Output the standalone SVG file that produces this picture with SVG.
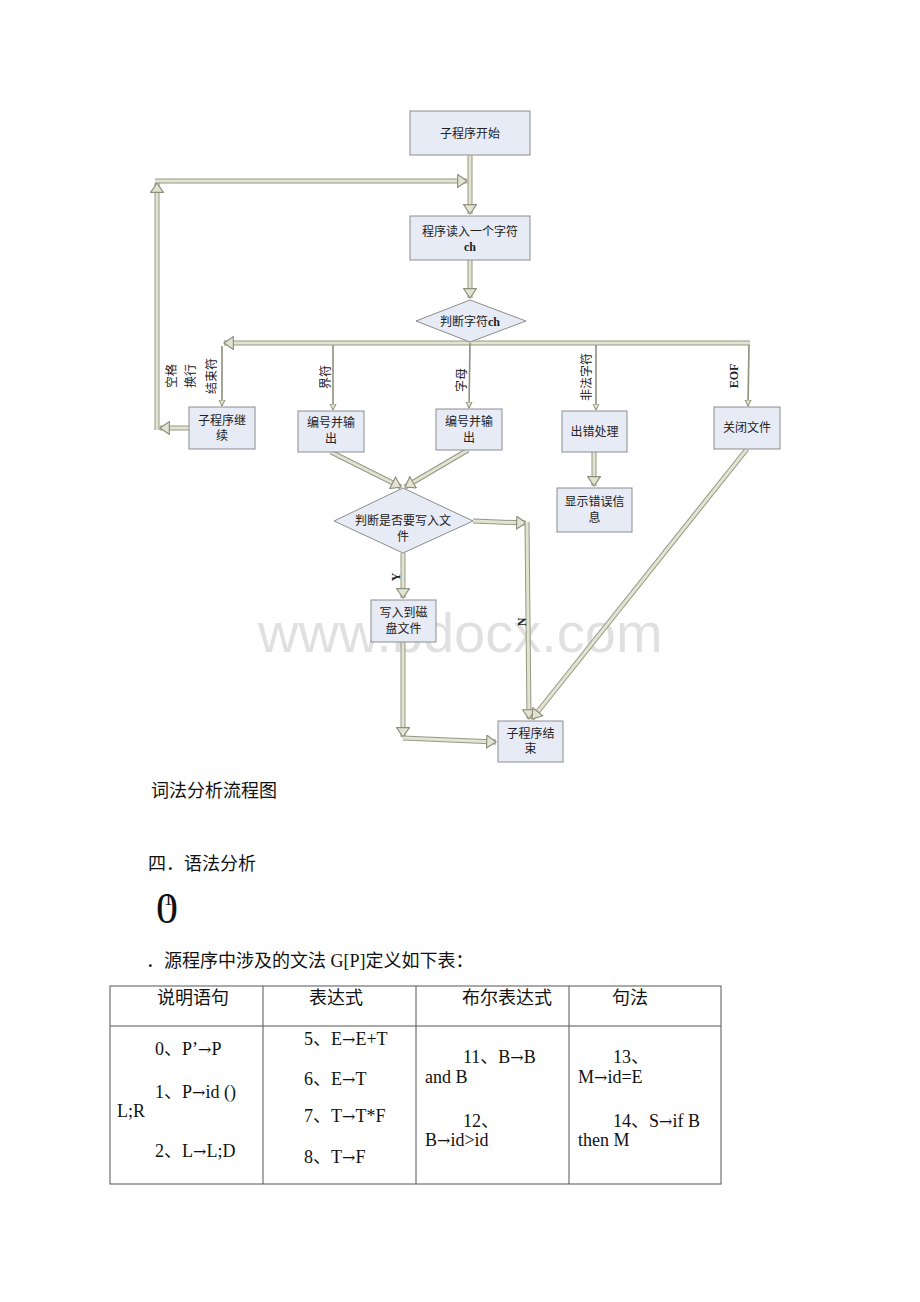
<svg xmlns="http://www.w3.org/2000/svg" width="920" height="1302" viewBox="0 0 920 1302">
<style>
.bx{fill:#e6ebf6;stroke:#8d8d8d;stroke-width:1}
.t{font-family:"Noto Sans CJK SC",sans-serif;font-size:12px;fill:#222;text-anchor:middle}
.tb{font-family:"Liberation Serif","Noto Sans CJK SC",serif;font-size:12px;font-weight:bold;fill:#222;text-anchor:middle}
.o{fill:none;stroke:#969684;stroke-width:5}
.i{fill:none;stroke:#e2e4d2;stroke-width:3}
.th{fill:none;stroke:#8f8f7e;stroke-width:1.6}
.pg{font-family:"Liberation Serif","Noto Sans CJK SC",serif;font-size:18px;fill:#111}
.ar{font-family:"DejaVu Serif",serif;font-size:16px}
.tl{stroke:#555;stroke-width:1;fill:none}
</style>
<defs>
<marker id="ah" markerUnits="userSpaceOnUse" markerWidth="12" markerHeight="14" viewBox="0 0 10 12" refX="8.5" refY="6" orient="auto">
<polygon points="0.5,0.5 8.5,6 0.5,11.5" fill="#e2e4d2" stroke="#8f8f7e" stroke-width="1"/>
</marker>
<marker id="sh" markerUnits="userSpaceOnUse" markerWidth="8" markerHeight="8" viewBox="0 0 8 8" refX="6" refY="4" orient="auto">
<polygon points="0,1 6,4 0,7" fill="#e2e4d2" stroke="#8f8f7e" stroke-width="1"/>
</marker>
</defs>
<rect width="920" height="1302" fill="#fff"/>

<text x="258" y="652" font-family="Liberation Sans" font-size="56" fill="#000" fill-opacity="0.12">www.bdocx.com</text>

<g id="connectors">
<path class="o" d="M470,155 V214"/><path class="i" d="M470,155 V214" marker-end="url(#ah)"/>
<path class="o" d="M189,428 H160"/><path class="i" d="M189,428 H160" marker-end="url(#ah)"/>
<path class="o" d="M157,430 V183"/><path class="i" d="M157,430 V183" marker-end="url(#ah)"/>
<path class="o" d="M155,181 H467"/><path class="i" d="M155,181 H467" marker-end="url(#ah)"/>
<path class="o" d="M470,260 V298"/><path class="i" d="M470,260 V298" marker-end="url(#ah)"/>
<path class="o" d="M750,343 H224"/><path class="i" d="M750,343 H224" marker-end="url(#ah)"/>
<path class="th" d="M222,346 V406" marker-end="url(#sh)"/>
<path class="th" d="M333,345 V410" marker-end="url(#sh)"/>
<path class="th" d="M470,343 L469,408" marker-end="url(#sh)"/>
<path class="th" d="M596,345 V410" marker-end="url(#sh)"/>
<path class="th" d="M749,345 L748,406" marker-end="url(#sh)"/>
<path class="o" d="M331,452 L401,487"/><path class="i" d="M331,452 L401,487" marker-end="url(#ah)"/>
<path class="o" d="M468,450 L405,487"/><path class="i" d="M468,450 L405,487" marker-end="url(#ah)"/>
<path class="o" d="M594,452 V486"/><path class="i" d="M594,452 V486" marker-end="url(#ah)"/>
<path class="o" d="M473,521 L526,523"/><path class="i" d="M473,521 L526,523" marker-end="url(#ah)"/>
<path class="o" d="M527,522 L529,719"/><path class="i" d="M527,522 L529,719" marker-end="url(#ah)"/>
<path class="o" d="M403,553 V598"/><path class="i" d="M403,553 V598" marker-end="url(#ah)"/>
<path class="o" d="M403,642 V737"/><path class="i" d="M403,642 V737" marker-end="url(#ah)"/>
<path class="o" d="M403,738 L496,742"/><path class="i" d="M403,738 L496,742" marker-end="url(#ah)"/>
<path class="o" d="M747,449 L532,719"/><path class="i" d="M747,449 L532,719" marker-end="url(#ah)"/>
</g>

<g id="labels">
<text class="t" transform="translate(176,376) rotate(-90)">空格</text>
<text class="t" transform="translate(195,376) rotate(-90)">换行</text>
<text class="t" transform="translate(216,376) rotate(-90)">结束符</text>
<text class="t" transform="translate(329.5,377) rotate(-90)">界符</text>
<text class="t" transform="translate(466,380) rotate(-90)">字母</text>
<text class="t" transform="translate(591,377) rotate(-90)">非法字符</text>
<text class="tb" transform="translate(737.5,376) rotate(-90)">EOF</text>
<text class="tb" transform="translate(399.5,577) rotate(-90)">Y</text>
<text class="tb" transform="translate(525.5,622) rotate(-90)">N</text>
</g>

<g id="n_start"><rect class="bx" x="410" y="111" width="120" height="44"/><text class="t" x="470" y="137.5">子程序开始</text></g>
<g id="n_read"><rect class="bx" x="410" y="216" width="120" height="44"/><text class="t" x="470" y="236">程序读入一个字符</text><text class="tb" x="470" y="251">ch</text></g>
<g id="n_judge"><polygon class="bx" points="470,300 526,321 470,342 416,321"/><text class="t" x="470" y="325.5">判断字符<tspan font-family="Liberation Serif" font-weight="bold">ch</tspan></text></g>
<g id="n_cont"><rect class="bx" x="189" y="407" width="66" height="42"/><text class="t" x="222" y="424.5">子程序继</text><text class="t" x="222" y="440">续</text></g>
<g id="n_num1"><rect class="bx" x="298" y="411" width="66" height="41"/><text class="t" x="331" y="427">编号并输</text><text class="t" x="331" y="442.5">出</text></g>
<g id="n_num2"><rect class="bx" x="436" y="409" width="66" height="41"/><text class="t" x="469" y="426">编号并输</text><text class="t" x="469" y="441.5">出</text></g>
<g id="n_err"><rect class="bx" x="562" y="411" width="65" height="41"/><text class="t" x="594.5" y="435.5">出错处理</text></g>
<g id="n_close"><rect class="bx" x="714" y="407" width="66" height="42"/><text class="t" x="747" y="431.5">关闭文件</text></g>
<g id="n_show"><rect class="bx" x="557" y="488" width="75" height="44"/><text class="t" x="594.5" y="506">显示错误信</text><text class="t" x="594.5" y="522">息</text></g>
<g id="n_write_q"><polygon class="bx" points="403,488 473,521 403,553 334,521"/><text class="t" x="403" y="524.5">判断是否要写入文</text><text class="t" x="403" y="541">件</text></g>
<g id="n_write"><rect class="bx" x="371" y="600" width="65" height="42"/><text class="t" x="403.5" y="616.5">写入到磁</text><text class="t" x="403.5" y="632.5">盘文件</text></g>
<g id="n_end"><rect class="bx" x="498" y="721" width="65" height="41"/><text class="t" x="530.5" y="737.5">子程序结</text><text class="t" x="530.5" y="752.5">束</text></g>

<g id="page_text">
<text class="pg" x="151" y="797">词法分析流程图</text>
<text class="pg" x="148" y="870">四．语法分析</text>
<text x="156" y="923" font-family="Liberation Serif" font-size="44" fill="#111">0</text>
<text x="164" y="905" font-family="Liberation Serif" font-size="17" fill="#111">1</text>
<text class="pg" x="146" y="967">．源程序中涉及的文法 G[P]定义如下表：</text>
</g>

<g id="table">
<rect class="tl" x="110" y="986" width="611" height="198"/>
<line class="tl" x1="110" y1="1026" x2="721" y2="1026"/>
<line class="tl" x1="263" y1="986" x2="263" y2="1184"/>
<line class="tl" x1="416" y1="986" x2="416" y2="1184"/>
<line class="tl" x1="569" y1="986" x2="569" y2="1184"/>
<text class="pg" x="157" y="1004">说明语句</text>
<text class="pg" x="309" y="1004">表达式</text>
<text class="pg" x="462" y="1004">布尔表达式</text>
<text class="pg" x="612" y="1004">句法</text>
<text class="pg" x="155" y="1055">0、P’<tspan class="ar">→</tspan>P</text>
<text class="pg" x="155" y="1098">1、P<tspan class="ar">→</tspan>id ()</text>
<text class="pg" x="117" y="1117">L;R</text>
<text class="pg" x="155" y="1157">2、L<tspan class="ar">→</tspan>L;D</text>
<text class="pg" x="304" y="1045">5、E<tspan class="ar">→</tspan>E+T</text>
<text class="pg" x="304" y="1085">6、E<tspan class="ar">→</tspan>T</text>
<text class="pg" x="304" y="1122">7、T<tspan class="ar">→</tspan>T*F</text>
<text class="pg" x="304" y="1163">8、T<tspan class="ar">→</tspan>F</text>
<text class="pg" x="463" y="1063">11、B<tspan class="ar">→</tspan>B</text>
<text class="pg" x="425" y="1083">and B</text>
<text class="pg" x="463" y="1127">12、</text>
<text class="pg" x="425" y="1146">B<tspan class="ar">→</tspan>id&gt;id</text>
<text class="pg" x="613" y="1063">13、</text>
<text class="pg" x="578" y="1083">M<tspan class="ar">→</tspan>id=E</text>
<text class="pg" x="613" y="1127">14、S<tspan class="ar">→</tspan>if B</text>
<text class="pg" x="578" y="1146">then M</text>
</g>
</svg>
